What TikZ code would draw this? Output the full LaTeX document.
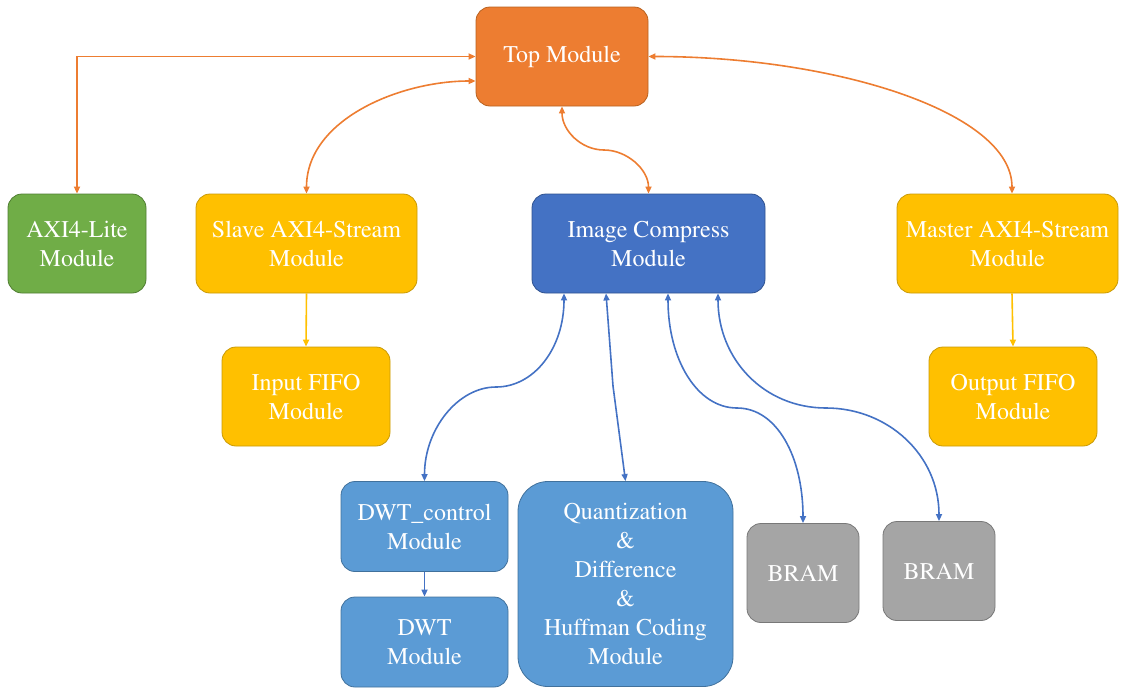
\documentclass[tikz,border=0pt]{standalone}
\usepackage[T1]{fontenc}
\usetikzlibrary{arrows.meta}
\definecolor{orng}{HTML}{ED7D31}
\definecolor{orngD}{HTML}{B8611F}
\definecolor{grn}{HTML}{70AD47}
\definecolor{grnD}{HTML}{507E32}
\definecolor{yel}{HTML}{FFC000}
\definecolor{yelD}{HTML}{C99A06}
\definecolor{blu}{HTML}{4472C4}
\definecolor{bluD}{HTML}{2F528F}
\definecolor{lblu}{HTML}{5B9BD5}
\definecolor{lbluD}{HTML}{41719C}
\definecolor{gry}{HTML}{A5A5A5}
\definecolor{gryD}{HTML}{787878}
\begin{document}
\begin{tikzpicture}[x=1pt,y=-1pt,
  box/.style={draw, rounded corners=14pt, inner sep=0pt, align=center, text=white,
    font=\fontfamily{ptm}\fontsize{24}{29}\selectfont, line width=0.8pt},
  conn/.style={line width=1.6pt, {Triangle[length=7pt,width=6pt]}-{Triangle[length=7pt,width=6pt]}},
  oarr/.style={conn, draw=orng},
  barr/.style={conn, draw=blu},
  yarr/.style={line width=1.6pt, draw=yel, -{Triangle[length=7pt,width=6pt]}},
  bone/.style={line width=1.6pt, draw=blu, -{Triangle[length=7pt,width=6pt]}}]
\useasboundingbox (0,0) rectangle (1134,691);

\node[box, fill=orng, draw=orngD, minimum width=172pt, minimum height=99pt] (top) at (562,56.5) {Top Module};
\node[box, fill=grn, draw=grnD, minimum width=138pt, minimum height=99pt] (axi) at (77,243.5) {AXI4-Lite\\Module};
\node[box, fill=yel, draw=yelD, minimum width=221pt, minimum height=99pt] (slave) at (306.5,243.5) {Slave AXI4-Stream\\Module};
\node[box, fill=blu, draw=bluD, minimum width=233pt, minimum height=99pt] (ic) at (648.5,243.5) {Image Compress\\Module};
\node[box, fill=yel, draw=yelD, minimum width=221pt, minimum height=99pt] (master) at (1007.5,243.5) {Master AXI4-Stream\\Module};
\node[box, fill=yel, draw=yelD, minimum width=168pt, minimum height=99pt] (ififo) at (306,396.5) {Input FIFO\\Module};
\node[box, fill=yel, draw=yelD, minimum width=168pt, minimum height=99pt] (ofifo) at (1013,396.5) {Output FIFO\\Module};
\node[box, fill=lblu, draw=lbluD, minimum width=167pt, minimum height=90pt] (dc) at (424.5,526.5) {DWT\_control\\Module};
\node[box, fill=lblu, draw=lbluD, minimum width=167pt, minimum height=90pt] (dwt) at (424.5,642) {DWT\\Module};
\node[box, fill=lblu, draw=lbluD, rounded corners=30pt, minimum width=215pt, minimum height=205pt] (q) at (625.5,584) {Quantization\\\&\\Difference\\\&\\Huffman Coding\\Module};
\node[box, fill=gry, draw=gryD, minimum width=112pt, minimum height=99pt] (b1) at (803,573) {BRAM};
\node[box, fill=gry, draw=gryD, minimum width=112pt, minimum height=99pt] (b2) at (939,571) {BRAM};

\coordinate (m1) at (604,150);
\coordinate (m2) at (496,387);
\coordinate (m3) at (613,386);
\coordinate (m4) at (737,408);
\coordinate (m5) at (826,408);

% orange connectors
\draw[oarr] (top.west) -| (axi.north);
\draw[oarr] (slave.north) .. controls +(0,-74) and +(-76,0) .. ([yshift=-24.5pt]top.west);
\draw[oarr] (top.south) .. controls +(0,24) and +(-23,0) .. (m1) .. controls +(23,0) and +(0,-24) .. (ic.north);
\draw[oarr] (top.east) .. controls +(185,0) and +(0,-82) .. ([xshift=4.5pt]master.north);

% yellow connectors
\draw[yarr] (slave.south) -- (ififo.north);
\draw[yarr] ([xshift=4.5pt]master.south) -- (ofifo.north);

% blue connectors
\draw[barr] ([xshift=-84.5pt]ic.south) .. controls +(0,55) and +(38,0) .. (m2) .. controls +(-38,0) and +(0,-52) .. (dc.north);
\draw[barr] ([xshift=-42.5pt]ic.south) -- (m3) -- (q.north);
\draw[barr] ([xshift=19.5pt]ic.south) .. controls +(0,66) and +(-40,0) .. (m4) .. controls +(40,0) and +(0,-66) .. (b1.north);
\draw[barr] ([xshift=69.5pt]ic.south) .. controls +(0,66) and +(-62,0) .. (m5) .. controls +(62,0) and +(0,-66) .. (b2.north);
\draw[bone] (dc.south) -- (dwt.north);
\end{tikzpicture}
\end{document}
